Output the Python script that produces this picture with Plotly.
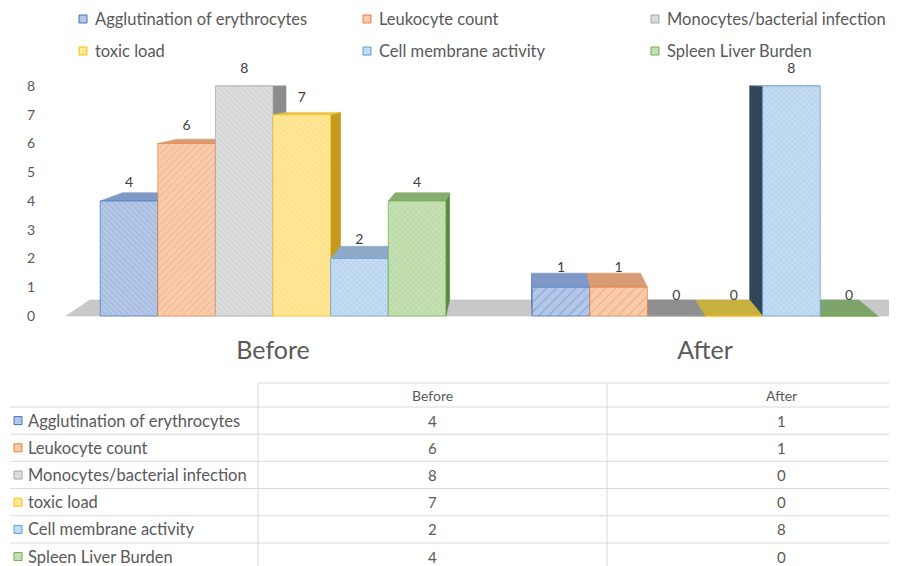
import plotly.graph_objects as go

# ---------------- data ----------------
groups = ["Before", "After"]
series = ["Agglutination of erythrocytes", "Leukocyte count",
          "Monocytes/bacterial infection", "toxic load",
          "Cell membrane activity", "Spleen Liver Burden"]
before_vals = [4, 6, 8, 7, 2, 4]
after_vals = [1, 1, 0, 0, 8, 0]
y_ticks = [0, 1, 2, 3, 4, 5, 6, 7, 8]

# ---------------- styles ----------------
base_col = ["#4472C4", "#ED7D31", "#A5A5A5", "#FFC000", "#5B9BD5", "#70AD47"]
front_col = ["#b4c7e7", "#f8cbad", "#dcdcdc", "#ffe699", "#c4dcf1", "#c5e0b4"]
top_col = ["#7f98c6", "#d99a74", "#c4c4c4", "#e6c24a", "#8ea9c8", "#86ad6e"]
side_col = ["#5a6f94", "#b0704a", "#8c8c8c", "#c49a1e", "#33455a", "#5e8548"]
zero_col = ["#7f98c6", "#d99a74", "#8f8f8f", "#c8b040", "#8ea9c8", "#7ea36b"]
pat_shape = [["\\", "/"], ["/", "/"], ["\\", "x"], ["\\", "x"], ["x", "x"], ["x", "x"]]
pat_size = [[4, 7], [5, 7], [4, 4], [4, 4], [4, 4], [4, 4]]
FONT = "Lato"
TXT = "#595959"

# the page body has an 8px margin: build a figure 8px smaller and
# express every layout position in the reference's pixel space
OFF = 8
W, H = 897 - OFF, 566 - OFF
PLOT_L, PLOT_R, PLOT_T, PLOT_B = 40, 897, 62, 333  # reference pixels
ML, MR, MT = PLOT_L - OFF, 897 - OFF - (PLOT_R - OFF), PLOT_T - OFF
MB = H - (PLOT_B - OFF)
PW, PH = PLOT_R - PLOT_L, PLOT_B - PLOT_T
PXU = 28.75  # pixels per value unit
XR = [-0.5394, 1.4444]
YR = [-(PLOT_B - 316) / PXU, (316 - PLOT_T) / PXU]

# pseudo-3D projection (vanishing point in data space)
VX, VY = 0.567, 8.21
KX, KY = 0.053, 0.068
GROUP_W = 0.8
BW = GROUP_W / len(series)


def back(x, y):
    return x + KX * (VX - x), y + KY * (VY - y)


def poly(pts, color, line=None):
    xs = [p[0] for p in pts] + [pts[0][0]]
    ys = [p[1] for p in pts] + [pts[0][1]]
    return go.Scatter(x=xs, y=ys, mode="lines", fill="toself", fillcolor=color,
                      line=dict(color=line or color, width=0.6),
                      hoverinfo="skip", showlegend=False)


fig = go.Figure()

# floor
fx0, fx1 = XR[0] + 0.06, XR[1] + 0.2
fig.add_trace(poly([(fx0, 0), (fx1, 0), back(fx1, 0), back(fx0, 0)], "#c8c8c8"))

values = [before_vals, after_vals]
bars = []
for g in range(len(groups)):
    for i in range(len(series)):
        xl = g - GROUP_W / 2 + i * BW
        xr = xl + BW
        bars.append((g, i, xl, xr, values[g][i]))

left_bars = sorted([b for b in bars if b[3] <= VX], key=lambda b: b[2])
right_bars = sorted([b for b in bars if b[2] >= VX], key=lambda b: -b[2])

for g, i, xl, xr, v in left_bars + right_bars:
    if v > 0:
        ex = xr if xr <= VX else xl
        fig.add_trace(poly([(ex, 0), (ex, v), back(ex, v), back(ex, 0)], side_col[i]))
        fig.add_trace(poly([(xl, v), (xr, v), back(xr, v), back(xl, v)], top_col[i]))
    else:
        fig.add_trace(poly([(xl, 0), (xr, 0), back(xr, 0), back(xl, 0)], zero_col[i]))

# front faces (real bars) on an overlaying axis pair so they sit on top
for i, name in enumerate(series):
    yv = [values[g][i] for g in range(len(groups))]
    fig.add_trace(go.Bar(
        x=list(range(len(groups))), y=yv, name=name, width=BW,
        offset=-GROUP_W / 2 + i * BW, xaxis="x2", yaxis="y2",
        marker=dict(color=front_col[i],
                    line=dict(color=base_col[i], width=0.7),
                    pattern=dict(shape=pat_shape[i], size=pat_size[i],
                                 fgcolor=base_col[i], bgcolor=front_col[i],
                                 fgopacity=0.45, solidity=0.15)),
        showlegend=False, hoverinfo="x+y+name"))

# data labels just above the back edge of each top face
lx, ly, lt = [], [], []
for g, i, xl, xr, v in bars:
    xc = (xl + xr) / 2
    _, by = back(xc, v)
    lx.append(xc)
    ly.append(by + (3 + 1.6 * v) / PXU)
    lt.append(str(v))
fig.add_trace(go.Scatter(x=lx, y=ly, text=lt, mode="text", textposition="middle center",
                         textfont=dict(family=FONT, size=14, color="#404040"),
                         xaxis="x2", yaxis="y2", showlegend=False, hoverinfo="skip",
                         cliponaxis=False))


def pxx(px):
    return (px - PLOT_L) / PW


def pyy(py):
    return (PLOT_B - py) / PH


shapes, annos = [], []

# top legend (two rows x three columns)
leg_x = [83, 367, 655]
leg_y = [19, 51]
for i, name in enumerate(series):
    cx, cy = leg_x[i % 3], leg_y[i // 3]
    shapes.append(dict(type="rect", xref="paper", yref="paper",
                       x0=pxx(cx - 4), x1=pxx(cx + 4), y0=pyy(cy + 4), y1=pyy(cy - 4),
                       fillcolor=front_col[i], line=dict(color=base_col[i], width=1)))
    annos.append(dict(text=name, xref="paper", yref="paper", x=pxx(cx + 10), y=pyy(cy),
                      xanchor="left", yanchor="middle", showarrow=False,
                      font=dict(family=FONT, size=16.5, color=TXT)))

# data table
GRID = "#d9d9d9"
tab_left, col1, col2, tab_right = 10, 258, 607, 956
head_top, head_bot, row_h = 383, 407, 27.2
n = len(series)
bottom = head_bot + n * row_h
shapes.append(dict(type="line", xref="paper", yref="paper", x0=pxx(col1), x1=pxx(tab_right),
                   y0=pyy(head_top), y1=pyy(head_top), line=dict(color=GRID, width=1)))
for r in range(n + 1):
    yy = head_bot + r * row_h
    shapes.append(dict(type="line", xref="paper", yref="paper", x0=pxx(tab_left),
                       x1=pxx(tab_right), y0=pyy(yy), y1=pyy(yy),
                       line=dict(color=GRID, width=1)))
for cxl in (col1, col2):
    shapes.append(dict(type="line", xref="paper", yref="paper", x0=pxx(cxl), x1=pxx(cxl),
                       y0=pyy(head_top), y1=pyy(bottom), line=dict(color=GRID, width=1)))
col_c = [(col1 + col2) / 2, (col2 + tab_right) / 2]
for g, gname in enumerate(groups):
    annos.append(dict(text=gname, xref="paper", yref="paper", x=pxx(col_c[g]),
                      y=pyy((head_top + head_bot) / 2), xanchor="center", yanchor="middle",
                      showarrow=False, font=dict(family=FONT, size=14, color=TXT)))
for i, name in enumerate(series):
    cy = head_bot + (i + 0.5) * row_h
    shapes.append(dict(type="rect", xref="paper", yref="paper",
                       x0=pxx(14), x1=pxx(22), y0=pyy(cy + 4), y1=pyy(cy - 4),
                       fillcolor=front_col[i], line=dict(color=base_col[i], width=1)))
    annos.append(dict(text=name, xref="paper", yref="paper", x=pxx(26), y=pyy(cy),
                      xanchor="left", yanchor="middle", showarrow=False,
                      font=dict(family=FONT, size=16.5, color=TXT)))
    for g in range(len(groups)):
        annos.append(dict(text=str(values[g][i]), xref="paper", yref="paper",
                          x=pxx(col_c[g]), y=pyy(cy), xanchor="center", yanchor="middle",
                          showarrow=False, font=dict(family=FONT, size=15, color=TXT)))

fig.update_layout(
    width=W, height=H, margin=dict(l=ML, r=MR, t=MT, b=MB),
    paper_bgcolor="white", plot_bgcolor="white",
    barmode="overlay", showlegend=False,
    font=dict(family=FONT, color=TXT),
    xaxis=dict(range=XR, tickvals=list(range(len(groups))), ticktext=groups,
               showgrid=False, zeroline=False, showline=False, ticks="",
               tickfont=dict(family=FONT, size=25, color=TXT)),
    yaxis=dict(range=YR, tickvals=y_ticks, showgrid=False, zeroline=False,
               showline=False, ticks="", ticklabelstandoff=4,
               tickfont=dict(family=FONT, size=14, color=TXT)),
    xaxis2=dict(range=XR, overlaying="x", visible=False),
    yaxis2=dict(range=YR, overlaying="y", visible=False),
    shapes=shapes, annotations=annos,
)

fig.write_html("out.html")
